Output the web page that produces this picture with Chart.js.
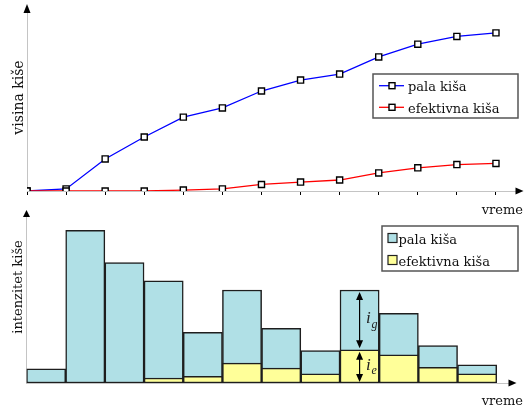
<!DOCTYPE html>
<html><head><meta charset="utf-8">
<script src="https://cdn.jsdelivr.net/npm/chart.js@4"></script>
<style>
html,body{margin:0;padding:0;background:#fff;width:525px;height:410px;overflow:hidden}
#c1{position:absolute;left:0;top:0}
#c2{position:absolute;left:0;top:200px}
</style></head><body>
<canvas id="c1" width="525" height="220"></canvas>
<canvas id="c2" width="525" height="210"></canvas>
<script>
// ---- data ----
const timeSteps = [0, 1, 2, 3, 4, 5, 6, 7, 8, 9, 10, 11, 12];
const palaKisaCum = [0, 0.7, 10.8, 18.2, 24.9, 28.0, 33.7, 37.4, 39.4, 45.2, 49.5, 52.1, 53.3];
const efektivnaKisaCum = [0, 0, 0, 0, 0.3, 0.7, 2.2, 3.0, 3.7, 6.1, 7.8, 8.9, 9.3];
const intervalMid = [0.5, 1.5, 2.5, 3.5, 4.5, 5.5, 6.5, 7.5, 8.5, 9.5, 10.5, 11.5];
const palaKisaInt = [1.7, 18.4, 14.5, 12.3, 6.1, 11.2, 6.6, 3.9, 11.2, 8.4, 4.5, 2.2];
const efektivnaKisaInt = [null, null, null, 0.6, 0.8, 2.4, 1.8, 1.1, 4.0, 3.4, 1.9, 1.1];
const seriesNames = ['pala kiša', 'efektivna kiša'];
const axisTitles = { topY: 'visina kiše', bottomY: 'intenzitet kiše', x: 'vreme' };
const markedInterval = 8;

const SERIF = '"DejaVu Serif", "Liberation Serif", serif';
const AXIS_GRAY = '#c4c4c4';

function arrowUp(ctx, x, yBase, len, hw) {
  ctx.beginPath(); ctx.moveTo(x - hw, yBase); ctx.lineTo(x + hw, yBase); ctx.lineTo(x, yBase - len); ctx.closePath(); ctx.fill();
}
function arrowRight(ctx, xBase, y, len, hw) {
  ctx.beginPath(); ctx.moveTo(xBase, y - hw); ctx.lineTo(xBase, y + hw); ctx.lineTo(xBase + len, y); ctx.closePath(); ctx.fill();
}
function rotatedText(ctx, text, xBase, yCenter, font) {
  ctx.save(); ctx.translate(xBase, yCenter); ctx.rotate(-Math.PI / 2);
  ctx.font = font; ctx.textAlign = 'center'; ctx.textBaseline = 'alphabetic';
  ctx.fillText(text, 0, 0); ctx.restore();
}
function legendOrder(chart) {
  return [...chart.data.datasets].sort((p, q) => seriesNames.indexOf(p.label) - seriesNames.indexOf(q.label));
}

// ---- top chart ----
const topDecor = {
  id: 'topDecor',
  afterDraw(chart) {
    const ctx = chart.ctx, a = chart.chartArea;
    ctx.save();
    ctx.fillStyle = '#000';
    arrowUp(ctx, a.left, a.top, 9, 3.5);
    arrowRight(ctx, a.right, a.bottom, 8, 3.5);
    ctx.fillStyle = '#111';
    rotatedText(ctx, axisTitles.topY, 22.7, 97.5, '14px ' + SERIF);
    ctx.font = '13px ' + SERIF; ctx.textAlign = 'right'; ctx.textBaseline = 'alphabetic';
    ctx.fillText(axisTitles.x, 523, 213.5);
    // legend
    ctx.fillStyle = '#fff'; ctx.fillRect(373, 74, 145, 44);
    ctx.strokeStyle = '#555'; ctx.lineWidth = 1.5; ctx.strokeRect(373, 74, 145, 44);
    const rows = [85.7, 107.3];
    legendOrder(chart).forEach((ds, i) => {
      const y = rows[i];
      ctx.strokeStyle = ds.borderColor; ctx.lineWidth = 1.3;
      ctx.beginPath(); ctx.moveTo(379, y); ctx.lineTo(404, y); ctx.stroke();
      ctx.fillStyle = '#fff'; ctx.strokeStyle = '#000'; ctx.lineWidth = 1.4;
      ctx.fillRect(389, y - 3, 6, 6); ctx.strokeRect(389, y - 3, 6, 6);
      ctx.fillStyle = '#111'; ctx.font = '13px ' + SERIF; ctx.textAlign = 'left';
      ctx.fillText(ds.label, 408, y + 5.5);
    });
    ctx.restore();
  }
};

const lineCommon = {
  borderWidth: 1.3, tension: 0, pointStyle: 'rect', pointRadius: 4.3, pointHoverRadius: 4.3,
  pointBackgroundColor: '#fff', pointBorderColor: '#000', pointBorderWidth: 1.4
};

new Chart(document.getElementById('c1'), {
  type: 'line',
  data: {
    datasets: [
      Object.assign({ label: seriesNames[1], borderColor: '#ff0000', data: timeSteps.map((t, i) => ({ x: t, y: efektivnaKisaCum[i] })) }, lineCommon),
      Object.assign({ label: seriesNames[0], borderColor: '#0000ff', data: timeSteps.map((t, i) => ({ x: t, y: palaKisaCum[i] })) }, lineCommon)
    ]
  },
  options: {
    responsive: false, animation: false, devicePixelRatio: 1,
    layout: { padding: { left: 27, right: 9.5, top: 13, bottom: 29 } },
    plugins: { legend: { display: false }, tooltip: { enabled: false } },
    scales: {
      x: {
        type: 'linear', min: 0, max: 12.5,
        ticks: { display: false, stepSize: 1, includeBounds: false },
        grid: { drawOnChartArea: false, drawTicks: true, tickLength: 4, color: '#000', lineWidth: 1 },
        border: { color: AXIS_GRAY, width: 1 },
        afterFit(s) { s.height = 0; }
      },
      y: {
        type: 'linear', min: 0, max: 60,
        ticks: { display: false },
        grid: { display: false, drawTicks: false },
        border: { color: AXIS_GRAY, width: 1 },
        afterFit(s) { s.width = 0; }
      }
    }
  },
  plugins: [topDecor]
});

// ---- bottom chart ----
const bottomDecor = {
  id: 'bottomDecor',
  afterDatasetsDraw(chart) {
    const ctx = chart.ctx, xs = chart.scales.x, ys = chart.scales.y;
    const x = xs.getPixelForValue(intervalMid[markedInterval]);
    const yTop = ys.getPixelForValue(palaKisaInt[markedInterval]);
    const yMid = ys.getPixelForValue(efektivnaKisaInt[markedInterval]);
    const yBase = ys.getPixelForValue(0);
    ctx.save();
    ctx.strokeStyle = '#000'; ctx.fillStyle = '#000'; ctx.lineWidth = 1.2;
    const dbl = (y1, y2) => {
      ctx.beginPath(); ctx.moveTo(x, y1 + 2); ctx.lineTo(x, y2 - 2); ctx.stroke();
      ctx.beginPath(); ctx.moveTo(x, y1); ctx.lineTo(x - 3.5, y1 + 8); ctx.lineTo(x + 3.5, y1 + 8); ctx.closePath(); ctx.fill();
      ctx.beginPath(); ctx.moveTo(x, y2); ctx.lineTo(x - 3.5, y2 - 8); ctx.lineTo(x + 3.5, y2 - 8); ctx.closePath(); ctx.fill();
    };
    dbl(yTop + 2, yMid - 1.5);
    dbl(yMid + 2, yBase - 1);
    ctx.fillStyle = '#222'; ctx.textAlign = 'left'; ctx.textBaseline = 'alphabetic';
    const lab = (sub, yc) => {
      ctx.font = 'italic 17px "Liberation Serif", serif';
      ctx.fillText('i', x + 6.5, yc + 3.5);
      ctx.font = 'italic 12px "Liberation Serif", serif';
      ctx.fillText(sub, x + 12, yc + 8);
    };
    lab('g', (yTop + yMid) / 2);
    lab('e', (yMid + yBase) / 2);
    ctx.restore();
  },
  afterDraw(chart) {
    const ctx = chart.ctx, a = chart.chartArea;
    ctx.save();
    ctx.fillStyle = '#000';
    arrowUp(ctx, a.left, a.top, 7, 3.5);
    arrowRight(ctx, a.right, a.bottom, 8, 3.5);
    ctx.fillStyle = '#111';
    rotatedText(ctx, axisTitles.bottomY, 21.5, 87, '13px ' + SERIF);
    ctx.font = '13px ' + SERIF; ctx.textAlign = 'right'; ctx.textBaseline = 'alphabetic';
    ctx.fillText(axisTitles.x, 523, 204.5);
    // legend
    ctx.fillStyle = '#fff'; ctx.fillRect(382, 26, 136, 45);
    ctx.strokeStyle = '#555'; ctx.lineWidth = 1.5; ctx.strokeRect(382, 26, 136, 45);
    const rows = [38, 60];
    legendOrder(chart).forEach((ds, i) => {
      const y = rows[i];
      ctx.fillStyle = ds.backgroundColor; ctx.fillRect(388, y - 4.5, 9, 9);
      ctx.strokeStyle = '#222'; ctx.lineWidth = 1.2; ctx.strokeRect(388, y - 4.5, 9, 9);
      ctx.fillStyle = '#111'; ctx.font = '13px ' + SERIF; ctx.textAlign = 'left';
      ctx.fillText(ds.label, 398.5, y + 5.5);
    });
    ctx.restore();
  }
};

const barCommon = { grouped: false, categoryPercentage: 1, barPercentage: 1, borderWidth: 1.5, borderColor: '#1e1e1e', borderSkipped: false };

new Chart(document.getElementById('c2'), {
  type: 'bar',
  data: {
    datasets: [
      Object.assign({ label: seriesNames[0], backgroundColor: '#b0e0e6', order: 1, data: intervalMid.map((m, i) => ({ x: m, y: palaKisaInt[i] })) }, barCommon),
      Object.assign({ label: seriesNames[1], backgroundColor: '#ffff99', order: 0, data: intervalMid.map((m, i) => ({ x: m, y: efektivnaKisaInt[i] })) }, barCommon)
    ]
  },
  options: {
    responsive: false, animation: false, devicePixelRatio: 1,
    layout: { padding: { left: 26.5, right: 16.5, top: 17, bottom: 27 } },
    plugins: { legend: { display: false }, tooltip: { enabled: false } },
    scales: {
      x: {
        type: 'linear', min: 0, max: 12.3, offset: false,
        ticks: { display: false, stepSize: 1, includeBounds: false },
        grid: { display: false, offset: false, drawTicks: false },
        border: { color: AXIS_GRAY, width: 1 },
        afterFit(s) { s.height = 0; }
      },
      y: {
        type: 'linear', min: 0, max: 20,
        ticks: { display: false },
        grid: { display: false, drawTicks: false },
        border: { color: AXIS_GRAY, width: 1 },
        afterFit(s) { s.width = 0; }
      }
    }
  },
  plugins: [bottomDecor]
});
</script>
</body></html>
